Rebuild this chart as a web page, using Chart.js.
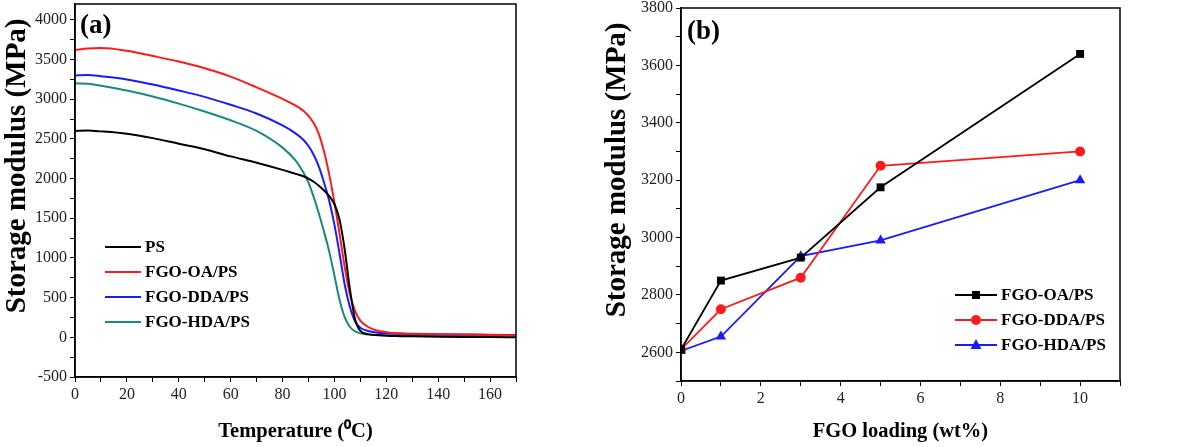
<!DOCTYPE html>
<html>
<head>
<meta charset="utf-8">
<script src="https://cdn.jsdelivr.net/npm/chart.js@4.4.0/dist/chart.umd.min.js"></script>
<style>
  html, body { margin: 0; padding: 0; background: #fff; }
  .wrap { display: flex; width: 1200px; height: 447px; }
  canvas { display: block; }
</style>
</head>
<body>
<div class="wrap">
  <canvas id="tempChart" width="600" height="447"></canvas>
  <canvas id="loadingChart" width="600" height="447"></canvas>
</div>
<script>
// panel (a): storage modulus vs temperature
const temps = [0, 5, 10, 20, 30, 40, 50, 60, 70, 80, 85, 88, 90, 92, 94, 96, 98, 100, 102, 104, 106, 108, 110, 113, 116, 120, 125, 130, 140, 150, 160, 170];
const ps = [2600, 2605, 2595, 2565, 2510, 2440, 2370, 2280, 2200, 2110, 2060, 2030, 2000, 1960, 1910, 1850, 1780, 1680, 1480, 1100, 600, 220, 80, 40, 28, 20, 15, 12, 8, 5, 3, 0];
const oaPs = [3620, 3640, 3645, 3610, 3545, 3475, 3390, 3285, 3150, 3005, 2920, 2855, 2790, 2700, 2560, 2340, 2050, 1700, 1300, 880, 540, 330, 210, 130, 90, 65, 50, 45, 40, 35, 30, 25];
const ddaPs = [3300, 3305, 3290, 3250, 3185, 3110, 3030, 2930, 2820, 2670, 2570, 2490, 2410, 2300, 2150, 1950, 1720, 1420, 1050, 660, 380, 200, 120, 80, 60, 50, 45, 42, 38, 35, 32, 30];
const hdaPs = [3200, 3195, 3170, 3110, 3035, 2945, 2845, 2735, 2600, 2390, 2230, 2080, 1950, 1770, 1560, 1330, 1080, 780, 470, 250, 130, 75, 50, 35, 28, 25, 24, 24, 25, 25, 25, 25];

// panel (b): storage modulus vs FGO loading
const loading = [0, 1, 3, 5, 10];
const oaLoad = [2610, 2850, 2930, 3175, 3640];
const ddaLoad = [2610, 2750, 2860, 3250, 3300];
const hdaLoad = [2605, 2655, 2935, 2990, 3200];

const SERIF = "'Liberation Serif', 'Times New Roman', serif";
const BLACK = '#000000', RED = '#ff1a1a', BLUE = '#1a1aff', TEAL = '#178a80';

const pairs = (xs, ys) => xs.map((x, i) => ({ x: x, y: ys[i] }));

// box around the plot area + panel tag + legend drawn inside the plot
const framePlugin = {
  id: 'frame',
  afterDraw(chart, args, opts) {
    const { ctx, chartArea: a } = chart;
    ctx.save();
    ctx.strokeStyle = '#000';
    ctx.lineWidth = 1.5;
    ctx.strokeRect(a.left, a.top, a.right - a.left, a.bottom - a.top);

    ctx.fillStyle = '#000';
    ctx.font = 'bold 27px ' + SERIF;
    ctx.textBaseline = 'middle';
    ctx.fillText(opts.tag, a.left + opts.tagDx, a.top + opts.tagDy);

    // legend
    ctx.font = 'bold 17px ' + SERIF;
    chart.data.datasets.forEach((ds, i) => {
      const y = opts.legendY + i * opts.legendGap;
      const x0 = opts.legendX;
      ctx.strokeStyle = ds.borderColor;
      ctx.lineWidth = 2;
      ctx.beginPath();
      ctx.moveTo(x0, y);
      ctx.lineTo(x0 + opts.lineLen, y);
      ctx.stroke();
      if (ds.pointRadius > 0) {
        ctx.fillStyle = ds.backgroundColor;
        const cx = x0 + opts.lineLen / 2;
        ctx.beginPath();
        if (ds.pointStyle === 'rect') {
          ctx.rect(cx - 4, y - 4, 8, 8);
        } else if (ds.pointStyle === 'triangle') {
          ctx.moveTo(cx, y - 6);
          ctx.lineTo(cx + 5.5, y + 4);
          ctx.lineTo(cx - 5.5, y + 4);
          ctx.closePath();
        } else {
          ctx.arc(cx, y, 5, 0, Math.PI * 2);
        }
        ctx.fill();
      }
      ctx.fillStyle = '#000';
      ctx.fillText(ds.label, x0 + opts.lineLen + 4, y + 1);
    });
    ctx.restore();
  }
};

function axisX(min, max, step, every, title, height) {
  return {
    type: 'linear',
    min: min,
    max: max,
    afterFit: (s) => { s.height = height; s.paddingLeft = 0; s.paddingRight = 0; },
    border: { display: true, color: '#000', width: 1.5 },
    grid: { drawOnChartArea: false, drawTicks: true, tickLength: 5, color: '#000' },
    ticks: {
      stepSize: step,
      includeBounds: false,
      autoSkip: false,
      maxRotation: 0,
      padding: 3,
      color: '#222',
      font: { family: SERIF, size: 16 },
      callback: (v) => (v % every === 0 ? v : '')
    },
    title: {
      display: true,
      text: title,
      color: '#000',
      font: { family: SERIF, size: 20.5, weight: 'bold' },
      padding: { top: 0, bottom: 3 }
    }
  };
}

function axisY(min, max, step, minor, every, width) {
  return {
    type: 'linear',
    min: min,
    max: max,
    afterFit: (s) => { s.width = width; s.paddingTop = 0; s.paddingBottom = 0; },
    border: { display: true, color: '#000', width: 1.5 },
    grid: {
      drawOnChartArea: false,
      drawTicks: true,
      tickLength: 5,
      color: '#000',
      tickColor: (c) => (c.tick && c.tick.value % minor === 0 ? '#000' : 'rgba(0,0,0,0)')
    },
    ticks: {
      stepSize: step,
      includeBounds: false,
      autoSkip: false,
      padding: 3,
      color: '#222',
      font: { family: SERIF, size: 16 },
      callback: (v) => (v % every === 0 ? v : '')
    },
    title: {
      display: true,
      text: 'Storage modulus (MPa)  ',
      align: 'end',
      color: '#000',
      font: { family: SERIF, size: 29, weight: 'bold' },
      padding: { top: 0, bottom: 0 }
    }
  };
}

function curve(label, ys, color) {
  return {
    label: label,
    data: pairs(temps, ys),
    borderColor: color,
    backgroundColor: color,
    borderWidth: 2,
    pointRadius: 0,
    cubicInterpolationMode: 'monotone'
  };
}

function markedLine(label, ys, color, style, r) {
  return {
    label: label,
    data: pairs(loading, ys),
    borderColor: color,
    backgroundColor: color,
    borderWidth: 1.8,
    pointStyle: style,
    pointRadius: r,
    pointBorderWidth: 0,
    tension: 0
  };
}

new Chart(document.getElementById('tempChart').getContext('2d'), {
  type: 'line',
  data: {
    datasets: [
      curve('PS', ps, BLACK),
      curve('FGO-OA/PS', oaPs, RED),
      curve('FGO-DDA/PS', ddaPs, BLUE),
      curve('FGO-HDA/PS', hdaPs, TEAL)
    ]
  },
  options: {
    responsive: false,
    animation: false,
    layout: { padding: { left: 0, top: 4, right: 84, bottom: 0 } },
    scales: {
      x: axisX(0, 170, 10, 20, 'Temperature (\u2070C)', 70),
      y: axisY(-500, 4200, 50, 250, 500, 75)
    },
    plugins: {
      legend: { display: false },
      tooltip: { enabled: false },
      frame: { tag: '(a)', tagDx: 5, tagDy: 22, legendX: 105, legendY: 247, legendGap: 25, lineLen: 36 }
    }
  },
  plugins: [framePlugin]
});

new Chart(document.getElementById('loadingChart').getContext('2d'), {
  type: 'line',
  data: {
    datasets: [
      markedLine('FGO-OA/PS', oaLoad, BLACK, 'rect', 5.6),
      markedLine('FGO-DDA/PS', ddaLoad, RED, 'circle', 5),
      markedLine('FGO-HDA/PS', hdaLoad, BLUE, 'triangle', 6)
    ]
  },
  options: {
    responsive: false,
    animation: false,
    layout: { padding: { left: 0, top: 8, right: 80, bottom: 0 } },
    scales: {
      x: axisX(0, 11, 1, 2, 'FGO loading (wt%)', 66),
      y: axisY(2500, 3800, 100, 100, 200, 81)
    },
    plugins: {
      legend: { display: false },
      tooltip: { enabled: false },
      frame: { tag: '(b)', tagDx: 6, tagDy: 24, legendX: 355, legendY: 295, legendGap: 25, lineLen: 42 }
    }
  },
  plugins: [framePlugin]
});
</script>
</body>
</html>
